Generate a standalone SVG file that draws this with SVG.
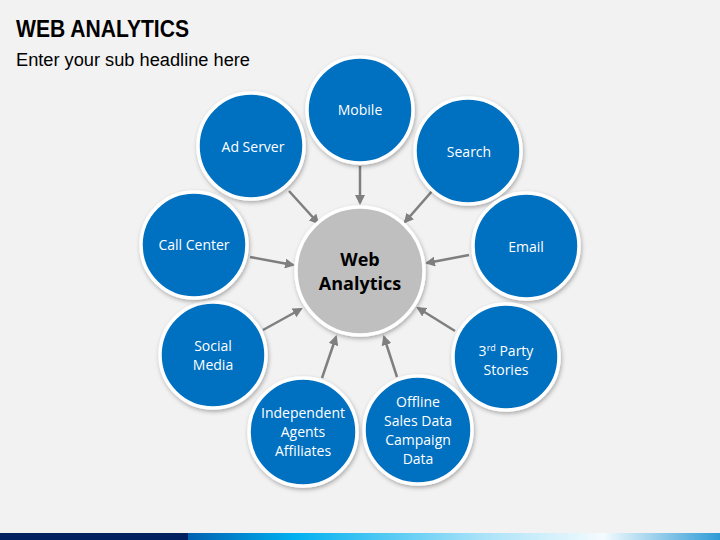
<svg xmlns="http://www.w3.org/2000/svg" width="720" height="540" viewBox="0 0 720 540">
<defs>
<linearGradient id="bar" x1="0" y1="0" x2="1" y2="0">
<stop offset="0" stop-color="#0060b0"/>
<stop offset="0.2" stop-color="#00b0f0"/>
<stop offset="0.55" stop-color="#a8e2f8"/>
<stop offset="0.78" stop-color="#f4fbfe"/>
<stop offset="1" stop-color="#2e9bd6"/>
</linearGradient>
<filter id="sh" x="-20%" y="-20%" width="140%" height="140%">
<feDropShadow dx="1" dy="2" stdDeviation="2" flood-color="#000" flood-opacity="0.3"/>
</filter>
<marker id="ah" viewBox="0 0 10 10" refX="8" refY="5" markerWidth="4" markerHeight="4" orient="auto" markerUnits="strokeWidth">
<path d="M0,0 L10,5 L0,10 z" fill="#7f7f7f"/>
</marker>
<style>
.t{font-family:"Liberation Sans",Arial,sans-serif;fill:#000}
.b{fill:#0070c0;stroke:#fff;stroke-width:3.5;filter:url(#sh)}
.l{font-family:"Open Sans","Liberation Sans",sans-serif;font-size:14px;fill:#fff;text-anchor:middle}
.c line{stroke:#7f7f7f;stroke-width:2.5;marker-end:url(#ah)}
</style>
</defs>
<rect width="720" height="540" fill="#f2f2f2"/>
<text class="t" x="16" y="37" font-size="23" font-weight="bold" textLength="173" lengthAdjust="spacingAndGlyphs">WEB ANALYTICS</text>
<text class="t" x="16" y="66" font-size="18" textLength="234" lengthAdjust="spacingAndGlyphs">Enter your sub headline here</text>
<rect x="0" y="533" width="188" height="7" fill="#002060"/>
<rect x="188" y="533" width="532" height="7" fill="url(#bar)"/>
<g class="c" id="connectors">
<line x1="360" y1="166" x2="360" y2="203"/>
<line x1="433" y1="190" x2="405" y2="222"/>
<line x1="469" y1="255" x2="427" y2="263"/>
<line x1="455" y1="331" x2="418" y2="308"/>
<line x1="397" y1="377" x2="384" y2="337"/>
<line x1="322" y1="378" x2="336" y2="337"/>
<line x1="263" y1="330" x2="301" y2="309"/>
<line x1="250" y1="257" x2="293" y2="265"/>
<line x1="289" y1="191" x2="318" y2="223"/>
</g>
<g id="center">
<circle cx="360" cy="271" r="64" fill="#bfbfbf" stroke="#fff" stroke-width="3.5" filter="url(#sh)"/>
<text x="360" y="266" font-family="'Open Sans','Liberation Sans',sans-serif" font-size="18" font-weight="bold" text-anchor="middle">Web</text>
<text x="360" y="290" font-family="'Open Sans','Liberation Sans',sans-serif" font-size="18" font-weight="bold" text-anchor="middle">Analytics</text>
</g>
<g id="mobile"><circle class="b" cx="360" cy="110" r="53"/><text class="l" x="360" y="115">Mobile</text></g>
<g id="search"><circle class="b" cx="468" cy="151" r="53"/><text class="l" x="469" y="157">Search</text></g>
<g id="email"><circle class="b" cx="526" cy="246" r="53"/><text class="l" x="526" y="252">Email</text></g>
<g id="third-party"><circle class="b" cx="506" cy="357" r="53"/><text class="l" x="506" y="356">3<tspan font-size="9" dy="-5">rd</tspan><tspan dy="5"> Party</tspan></text><text class="l" x="506" y="375">Stories</text></g>
<g id="offline"><circle class="b" cx="418" cy="430" r="54"/><text class="l" x="418" y="407">Offline</text><text class="l" x="418" y="426">Sales Data</text><text class="l" x="418" y="445">Campaign</text><text class="l" x="418" y="464">Data</text></g>
<g id="independent"><circle class="b" cx="303" cy="432" r="54"/><text class="l" x="303" y="418">Independent</text><text class="l" x="303" y="437">Agents</text><text class="l" x="303" y="456">Affiliates</text></g>
<g id="social"><circle class="b" cx="213" cy="355" r="53"/><text class="l" x="213" y="351">Social</text><text class="l" x="213" y="370">Media</text></g>
<g id="call-center"><circle class="b" cx="194" cy="245" r="53"/><text class="l" x="194" y="250">Call Center</text></g>
<g id="ad-server"><circle class="b" cx="251" cy="146" r="53"/><text class="l" x="253" y="152">Ad Server</text></g>
</svg>
